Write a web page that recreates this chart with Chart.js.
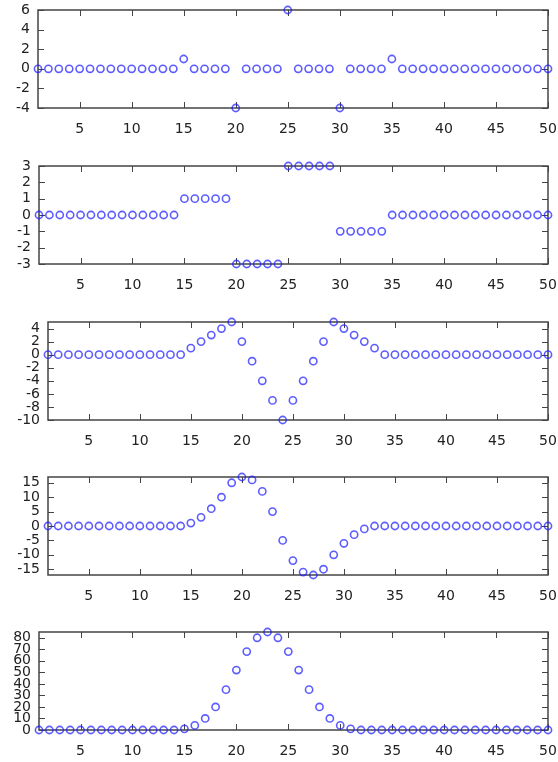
<!DOCTYPE html>
<html>
<head>
<meta charset="utf-8">
<script src="https://cdn.jsdelivr.net/npm/chart.js@4.4.1/dist/chart.umd.min.js"></script>
<style>
    body { margin: 0; background: #fff; }
    #wrap { position: relative; width: 558px; height: 762px; }
    #wrap canvas { position: absolute; left: 0; }
</style>
</head>
<body>
<div id="wrap">
    <canvas id="c1" width="558" height="140"></canvas>
    <canvas id="c2" width="558" height="140"></canvas>
    <canvas id="c3" width="558" height="140"></canvas>
    <canvas id="c4" width="558" height="140"></canvas>
    <canvas id="c5" width="558" height="140"></canvas>
</div>
<script>
// sample index (x)
const xs = [1, 2, 3, 4, 5, 6, 7, 8, 9, 10, 11, 12, 13, 14, 15, 16, 17, 18, 19, 20,
    21, 22, 23, 24, 25, 26, 27, 28, 29, 30, 31, 32, 33, 34, 35, 36, 37, 38, 39, 40,
    41, 42, 43, 44, 45, 46, 47, 48, 49, 50];
const xTicks = [5, 10, 15, 20, 25, 30, 35, 40, 45, 50];

// series values, one per panel
const s1 = [0, 0, 0, 0, 0, 0, 0, 0, 0, 0, 0, 0, 0, 0, 1, 0, 0, 0, 0, -4,
    0, 0, 0, 0, 6, 0, 0, 0, 0, -4, 0, 0, 0, 0, 1, 0, 0, 0, 0, 0,
    0, 0, 0, 0, 0, 0, 0, 0, 0, 0];
const s2 = [0, 0, 0, 0, 0, 0, 0, 0, 0, 0, 0, 0, 0, 0, 1, 1, 1, 1, 1, -3,
    -3, -3, -3, -3, 3, 3, 3, 3, 3, -1, -1, -1, -1, -1, 0, 0, 0, 0, 0, 0,
    0, 0, 0, 0, 0, 0, 0, 0, 0, 0];
const s3 = [0, 0, 0, 0, 0, 0, 0, 0, 0, 0, 0, 0, 0, 0, 1, 2, 3, 4, 5, 2,
    -1, -4, -7, -10, -7, -4, -1, 2, 5, 4, 3, 2, 1, 0, 0, 0, 0, 0, 0, 0,
    0, 0, 0, 0, 0, 0, 0, 0, 0, 0];
const s4 = [0, 0, 0, 0, 0, 0, 0, 0, 0, 0, 0, 0, 0, 0, 1, 3, 6, 10, 15, 17,
    16, 12, 5, -5, -12, -16, -17, -15, -10, -6, -3, -1, 0, 0, 0, 0, 0, 0, 0, 0,
    0, 0, 0, 0, 0, 0, 0, 0, 0, 0];
const s5 = [0, 0, 0, 0, 0, 0, 0, 0, 0, 0, 0, 0, 0, 0, 1, 4, 10, 20, 35, 52,
    68, 80, 85, 80, 68, 52, 35, 20, 10, 4, 1, 0, 0, 0, 0, 0, 0, 0, 0, 0,
    0, 0, 0, 0, 0, 0, 0, 0, 0, 0];

// y tick labels per panel
const yTicks1 = [-4, -2, 0, 2, 4, 6];
const yTicks2 = [-3, -2, -1, 0, 1, 2, 3];
const yTicks3 = [-10, -8, -6, -4, -2, 0, 2, 4];
const yTicks4 = [-15, -10, -5, 0, 5, 10, 15];
const yTicks5 = [0, 10, 20, 30, 40, 50, 60, 70, 80];

const panels = [
    { id: 'c1', data: s1, yTicks: yTicks1, min: -4, max: 6, top: 0, left: 38 },
    { id: 'c2', data: s2, yTicks: yTicks2, min: -3, max: 3, top: 156, left: 39 },
    { id: 'c3', data: s3, yTicks: yTicks3, min: -10, max: 5, top: 312, left: 48 },
    { id: 'c4', data: s4, yTicks: yTicks4, min: -17, max: 17, top: 467, left: 48 },
    { id: 'c5', data: s5, yTicks: yTicks5, min: 0, max: 85, top: 622, left: 39 }
];

const axisColor = '#444';
const tickLen = 6;

// box frame with inward tick marks on all four sides
const framePlugin = {
    id: 'frame',
    beforeDatasetsDraw: chart => {
        const { ctx, chartArea: { left, right, top, bottom }, scales: { x, y } } = chart;
        ctx.save();
        ctx.strokeStyle = axisColor;
        ctx.lineWidth = 1;
        ctx.beginPath();
        x.ticks.forEach(t => {
            const px = Math.round(x.getPixelForValue(t.value)) + 0.5;
            ctx.moveTo(px, top); ctx.lineTo(px, top + tickLen);
            ctx.moveTo(px, bottom); ctx.lineTo(px, bottom - tickLen);
        });
        y.ticks.forEach(t => {
            const py = Math.round(y.getPixelForValue(t.value)) + 0.5;
            ctx.moveTo(left, py); ctx.lineTo(left + tickLen, py);
            ctx.moveTo(right, py); ctx.lineTo(right - tickLen, py);
        });
        ctx.stroke();
        ctx.lineWidth = 1.5;
        ctx.strokeRect(left, top, right - left, bottom - top);
        ctx.restore();
    }
};

const tickFont = { family: 'DejaVu Sans', size: 14, lineHeight: 1 };

panels.forEach(p => {
    const canvas = document.getElementById(p.id);
    canvas.style.top = p.top + 'px';
    new Chart(canvas.getContext('2d'), {
        type: 'scatter',
        data: {
            datasets: [{
                data: xs.map((v, i) => ({ x: v, y: p.data[i] })),
                pointStyle: 'circle',
                pointRadius: 3.6,
                pointBorderWidth: 1.6,
                borderColor: 'rgba(30, 30, 255, 0.72)',
                backgroundColor: 'rgba(0, 0, 0, 0)',
                clip: false
            }]
        },
        options: {
            responsive: false,
            animation: false,
            layout: { padding: { top: 10, right: 10, left: 0, bottom: 0 } },
            plugins: { legend: { display: false }, tooltip: { enabled: false } },
            scales: {
                x: {
                    type: 'linear',
                    min: 1,
                    max: 50,
                    grid: { display: false, drawTicks: false },
                    border: { display: false },
                    ticks: { font: tickFont, color: '#222', padding: 14, maxRotation: 0, autoSkip: false },
                    afterBuildTicks: s => { s.ticks = xTicks.map(v => ({ value: v })); },
                    afterFit: s => { s.height = 32; s.paddingLeft = 0; s.paddingRight = 0; }
                },
                y: {
                    min: p.min,
                    max: p.max,
                    grid: { display: false, drawTicks: false },
                    border: { display: false },
                    ticks: { font: tickFont, color: '#222', padding: 8, autoSkip: false },
                    afterBuildTicks: s => { s.ticks = p.yTicks.map(v => ({ value: v })); },
                    afterFit: s => { s.width = p.left; s.paddingTop = 0; s.paddingBottom = 0; }
                }
            }
        },
        plugins: [framePlugin]
    });
});
</script>
</body>
</html>
